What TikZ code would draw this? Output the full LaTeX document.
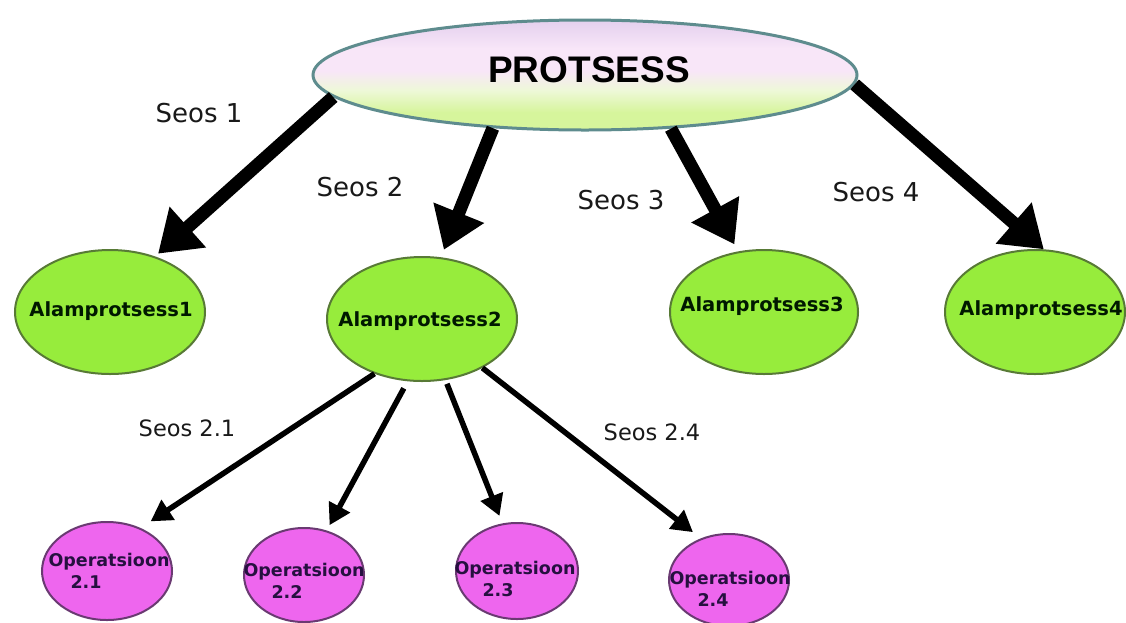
\documentclass[tikz,border=0pt]{standalone}
\usepackage{fontspec}
\usetikzlibrary{arrows.meta,shapes.geometric,calc}
\newfontfamily\dvs{DejaVu Sans}
\newfontfamily\libs{Liberation Sans}
\definecolor{topedge}{HTML}{5E8C8E}
\definecolor{subfill}{HTML}{97EC3C}
\definecolor{subedge}{HTML}{587A36}
\definecolor{opfill}{HTML}{EE66EE}
\definecolor{opedge}{HTML}{6A3A72}
\definecolor{optext}{HTML}{261040}
\definecolor{shadetop}{HTML}{E4D0EE}
\definecolor{shademid}{HTML}{F8E6F8}
\definecolor{shadelow}{HTML}{EEF8D8}
\definecolor{shadebot}{HTML}{D6F59C}
% top-to-bottom fill of the main process ellipse
\pgfdeclareverticalshading{procfade}{100bp}{%
  color(0bp)=(shadebot); color(25bp)=(shadebot); color(33bp)=(shadebot);
  color(43bp)=(shadelow); color(52bp)=(shademid); color(62bp)=(shademid);
  color(75bp)=(shadetop); color(100bp)=(shadetop)}
\tikzset{
  mainnode/.style={ellipse, draw=topedge, line width=3pt, inner sep=0pt,
    minimum width=544pt, minimum height=110pt, shading=procfade},
  subnode/.style={ellipse, draw=subedge, line width=2pt, fill=subfill, inner sep=0pt},
  opnode/.style={ellipse, draw=opedge, line width=2pt, fill=opfill, inner sep=0pt},
  subtext/.style={font=\dvs\bfseries\fontsize{19.5}{22}\selectfont, text=black!90!green, inner sep=0pt},
  optext/.style={font=\dvs\bfseries\fontsize{17.5}{22}\selectfont, text=optext, inner sep=0pt, align=left},
  linktext/.style={font=\dvs\fontsize{26}{30}\selectfont, text=black!90, inner sep=0pt},
  sublinktext/.style={font=\dvs\fontsize{22.5}{26}\selectfont, text=black!90, inner sep=0pt},
  bigarrow/.style={line width=13pt, -{Triangle[length=40pt,width=52pt]}},
  smallarrow/.style={line width=5.5pt, -{Triangle[length=21pt,width=23pt]}},
}
\begin{document}
\begin{tikzpicture}[x=1pt, y=-1pt]
  \useasboundingbox[fill=white] (0,0) rectangle (1126,622);

  % top-level process
  \node[mainnode] (p) at (585,75) {};
  \node[font=\libs\bfseries\fontsize{37}{40}\selectfont, inner sep=0pt] (ptxt) at (589,70) {PROTSESS};

  % sub-processes
  \node[subnode, minimum width=190pt, minimum height=124pt] (a1) at (110,312) {};
  \node[subnode, minimum width=190pt, minimum height=124pt] (a2) at (422,319) {};
  \node[subnode, minimum width=188pt, minimum height=124pt] (a3) at (764,312) {};
  \node[subnode, minimum width=180pt, minimum height=124pt] (a4) at (1035,312) {};
  \node[subtext] (a1t) at (111,311) {Alamprotsess1};
  \node[subtext] (a2t) at (420,321) {Alamprotsess2};
  \node[subtext] (a3t) at (762,306) {Alamprotsess3};
  \node[subtext] (a4t) at (1041,310) {Alamprotsess4};

  % operations
  \node[opnode, minimum width=130pt, minimum height=98pt] (o1) at (107,571) {};
  \node[opnode, minimum width=120pt, minimum height=94pt] (o2) at (304,575) {};
  \node[opnode, minimum width=122pt, minimum height=96pt] (o3) at (517,571) {};
  \node[opnode, minimum width=120pt, minimum height=92pt] (o4) at (729,580) {};
  \node[optext] (o1t) at (109,571) {Operatsioon\\\hspace{22pt}2.1};
  \node[optext] (o2t) at (304,581) {Operatsioon\\\hspace{28pt}2.2};
  \node[optext] (o3t) at (515,579) {Operatsioon\\\hspace{28pt}2.3};
  \node[optext] (o4t) at (730,589) {Operatsioon\\\hspace{28pt}2.4};

  % links from the process
  \draw[bigarrow, shorten >=4pt] (p.185) -- (a1.51);
  \draw[bigarrow, shorten >=8pt] (p.210) -- (a2.73);
  \draw[bigarrow, shorten >=8pt] (p.328) -- (a3.113);
  \draw[bigarrow] (p.358) -- (a4.82);

  % links from sub-process 2
  \draw[smallarrow, shorten >=12pt] (a2.229) -- (o1.52);
  \draw[smallarrow, shorten <=8pt, shorten >=6pt] (a2.257) -- (o2.63);
  \draw[smallarrow, shorten <=4pt, shorten >=8pt] (a2.291) -- (o3.107);
  \draw[smallarrow, shorten >=10pt] (a2.321) -- (o4.124);

  % link labels
  \node[linktext] (s1) at (199,113) {Seos 1};
  \node[linktext] (s2) at (360,187) {Seos 2};
  \node[linktext] (s3) at (621,200) {Seos 3};
  \node[linktext] (s4) at (876,192) {Seos 4};
  \node[sublinktext] (s21) at (187,428) {Seos 2.1};
  \node[sublinktext] (s24) at (652,432) {Seos 2.4};
\end{tikzpicture}
\end{document}
